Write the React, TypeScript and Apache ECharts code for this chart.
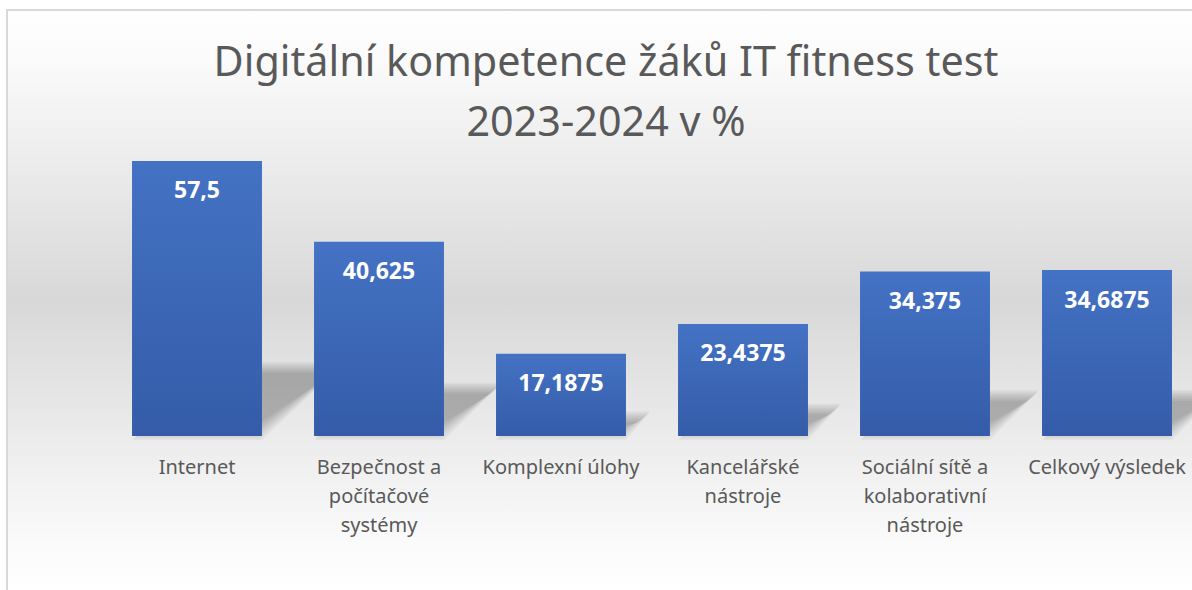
import React, { useEffect, useRef } from "react";
import * as echarts from "echarts";

const categories = [
  "Internet",
  "Bezpečnost a počítačové systémy",
  "Komplexní úlohy",
  "Kancelářské nástroje",
  "Sociální sítě a kolaborativní nástroje",
  "Celkový výsledek",
];
const categoryLabelLines = [
  ["Internet"],
  ["Bezpečnost a", "počítačové", "systémy"],
  ["Komplexní úlohy"],
  ["Kancelářské", "nástroje"],
  ["Sociální sítě a", "kolaborativní", "nástroje"],
  ["Celkový výsledek"],
];
const values = [57.5, 40.625, 17.1875, 23.4375, 34.375, 34.6875];
const titleLines = ["Digitální kompetence žáků IT fitness test", "2023-2024 v %"];

const FONT = "'Noto Sans', sans-serif";

export default function App() {
  const ref = useRef<HTMLDivElement>(null);
  useEffect(() => {
    if (!ref.current) return;
    const chart = echarts.init(ref.current, null, { renderer: "svg" });
    const barFrac = 130 / 182;
    chart.setOption({
      animation: false,
      backgroundColor: "#ffffff",
      title: {
        text: titleLines.join("\n"),
        left: 606,
        top: 30,
        padding: 0,
        textAlign: "center",
        textStyle: {
          fontFamily: FONT,
          fontSize: 41.3,
          fontWeight: "normal",
          color: "#595959",
          lineHeight: 60,
        },
      },
      graphic: [
        {
          type: "rect",
          z: -10,
          silent: true,
          shape: { x: 7, y: 10, width: 1210, height: 582 },
          style: {
            fill: new echarts.graphic.LinearGradient(0, 0, 0, 1, [
              { offset: 0, color: "#ffffff" },
              { offset: 0.08, color: "#fbfbfb" },
              { offset: 0.5, color: "#d8d8d8" },
              { offset: 0.92, color: "#fbfbfb" },
              { offset: 1, color: "#ffffff" },
            ]),
            stroke: "#d9d9d9",
            lineWidth: 2,
          },
        },
      ],
      grid: { left: 106, width: 1092, top: 149, height: 287 },
      xAxis: {
        type: "category",
        data: categories,
        axisLine: { show: false },
        axisTick: { show: false },
        axisLabel: {
          interval: 0,
          margin: 16,
          color: "#595959",
          fontFamily: FONT,
          fontSize: 20,
          lineHeight: 29,
          formatter: (_v: string, idx: number) => categoryLabelLines[idx].join("\n"),
        },
      },
      yAxis: {
        type: "value",
        min: 0,
        max: 60,
        show: false,
        splitLine: { show: false },
      },
      series: [
        {
          type: "custom",
          z: 1,
          silent: true,
          data: values.map((v, i) => [i, v]),
          encode: { x: 0, y: 1 },
          renderItem: (params: any, api: any) => {
            const i = api.value(0);
            const v = api.value(1);
            const base = api.coord([i, 0]);
            const top = api.coord([i, v]);
            const h = base[1] - top[1];
            const bw = api.size([1, 0])[0] * barFrac;
            const x0 = base[0] - bw / 2;
            const x1 = base[0] + bw / 2;
            const by = base[1] + 4;
            const ty = base[1] - 0.255 * h - 4;
            const dx = 0.3 * h;
            const layers = [];
            const n = 8;
            for (let k = 0; k < n; k++) {
              const d = k * 1.6;
              layers.push({
                type: "polygon",
                shape: {
                  points: [
                    [x0 + d, by - d],
                    [x1 - d, by - d],
                    [x1 + dx - d, ty + d],
                    [x0 + dx + d, ty + d],
                  ],
                },
                style: { fill: "rgba(0,0,0,0.034)" },
              });
            }
            return { type: "group", children: layers };
          },
        },
        {
          type: "bar",
          z: 2,
          data: values,
          barCategoryGap: "28.6%",
          itemStyle: {
            color: new echarts.graphic.LinearGradient(0, 0, 0, 1, [
              { offset: 0, color: "#4472c4" },
              { offset: 1, color: "#345ca8" },
            ]),
          },
          label: {
            show: true,
            position: "insideTop",
            distance: 17,
            color: "#ffffff",
            fontFamily: FONT,
            fontWeight: "bold",
            fontSize: 23,
            formatter: (p: any) => String(p.value).replace(".", ","),
          },
        },
      ],
    });
    return () => chart.dispose();
  }, []);
  return (
    <div
      style={{
        position: "absolute",
        left: 0,
        top: 0,
        width: 1192,
        height: 590,
        overflow: "hidden",
      }}
    >
      <div ref={ref} style={{ width: 1200, height: 590 }} />
    </div>
  );
}
